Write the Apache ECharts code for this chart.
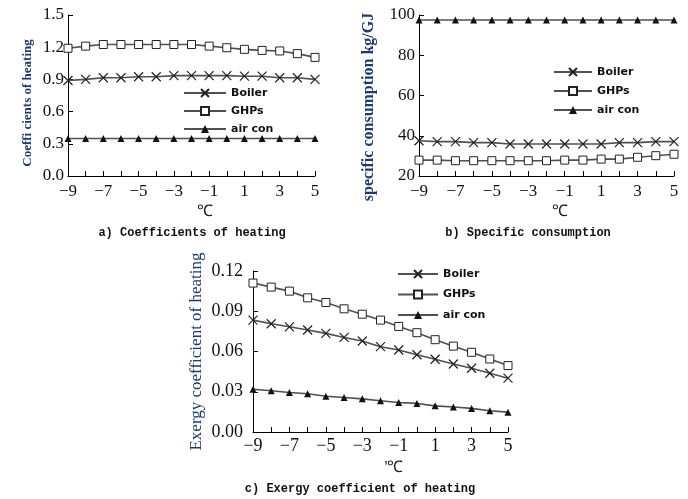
<!DOCTYPE html>
<html>
<head>
<meta charset="utf-8">
<script src="https://cdn.jsdelivr.net/npm/echarts@6/dist/echarts.min.js"></script>
<style>html,body{margin:0;padding:0;background:#fff;}#c{width:688px;height:499px;}</style>
</head>
<body>
<div id="c"></div>
<script>
const temps = ['-9','-8','-7','-6','-5','-4','-3','-2','-1','0','1','2','3','4','5'];
const seriesNames = ['Boiler','GHPs','air con'];

const coefBoiler = [0.89,0.90,0.915,0.915,0.925,0.925,0.935,0.935,0.935,0.935,0.93,0.93,0.915,0.915,0.90];
const coefGHPs   = [1.19,1.21,1.225,1.225,1.225,1.225,1.225,1.225,1.21,1.195,1.18,1.17,1.165,1.14,1.105];
const coefAir    = [0.35,0.35,0.35,0.35,0.35,0.35,0.35,0.35,0.35,0.35,0.35,0.35,0.35,0.35,0.35];

const consBoiler = [37.5,37.1,37.1,36.6,36.6,35.9,35.9,35.9,35.9,35.9,35.9,36.6,36.6,37.1,37.1];
const consGHPs   = [27.9,27.9,27.6,27.6,27.6,27.6,27.6,27.6,27.9,27.9,28.4,28.4,29.3,30.1,30.8];
const consAir    = [97.5,97.5,97.5,97.5,97.5,97.5,97.5,97.5,97.5,97.5,97.5,97.5,97.5,97.5,97.5];

const exBoiler = [0.0834,0.0807,0.0784,0.076,0.0735,0.0705,0.0678,0.0636,0.0611,0.0576,0.0542,0.0507,0.0475,0.0438,0.0401];
const exGHPs   = [0.111,0.108,0.105,0.100,0.0965,0.0918,0.0878,0.0834,0.0787,0.074,0.0688,0.064,0.0594,0.0544,0.0495];
const exAir    = [0.0319,0.0307,0.0294,0.0285,0.0267,0.0257,0.0247,0.0233,0.022,0.0213,0.0195,0.0186,0.0176,0.0158,0.0148];

const yTicksA = {min:0, max:1.5, interval:0.3, digits:1};
const yTicksB = {min:20, max:100, interval:20, digits:0};
const yTicksC = {min:0, max:0.12, interval:0.03, digits:2};

const captions = ['a) Coefficients of heating','b) Specific consumption','c) Exergy coefficient of heating'];
const yNames = ['Coeffi cients of heating','specific consumption kg/GJ','Exergy coefficient of heating'];
const xNames = ['℃','℃',"'℃"];

const SERIF = '"Liberation Serif","Times New Roman",serif';
const NAVY = '#1f3a6e';
const LINE = '#505050';
const INK = '#111';

function xAxis(i, fs, name, margin) {
  return {
    type:'category', gridIndex:i, data:temps, boundaryGap:false,
    name:name, nameLocation:'middle', nameGap:28,
    nameTextStyle:{fontFamily:SERIF, fontSize:16, color:'#222', padding:[0,0,0,27]},
    axisLine:{lineStyle:{color:'#000', width:1}},
    axisTick:{inside:true, length:5, interval:0, lineStyle:{color:'#000'}},
    axisLabel:{interval:1, margin:margin, fontFamily:SERIF, fontSize:fs, color:INK,
      formatter:v=>String(v).replace('-','\u2212')},
    splitLine:{show:false}
  };
}
function yAxis(i, t, fs, name, nfs, bold, gap, pad, margin) {
  return {
    type:'value', gridIndex:i, min:t.min, max:t.max, interval:t.interval,
    name:name, nameLocation:'middle', nameGap:gap,
    nameTextStyle:{fontFamily:SERIF, fontSize:nfs, fontWeight:bold?'bold':'normal', color:NAVY, padding:pad},
    axisLine:{show:true, lineStyle:{color:'#000', width:1}},
    axisTick:{show:true, inside:true, length:5, lineStyle:{color:'#000'}},
    axisLabel:{margin:margin, fontFamily:SERIF, fontSize:fs, color:INK,
      formatter:v=>Number(v).toFixed(t.digits)},
    splitLine:{show:false}
  };
}
const crossPath = 'path://M0,0L10,10M10,0L0,10';
const styles = [
  {symbol:crossPath, symbolSize:9, itemStyle:{color:'#fff', borderColor:'#222', borderWidth:1.2}},
  {symbol:'rect', symbolSize:8, itemStyle:{color:'#fff', borderColor:'#222', borderWidth:1}},
  {symbol:'triangle', symbolSize:7, itemStyle:{color:'#111', borderColor:'#111', borderWidth:0}}
];
function mk(name, k, gi, data) {
  const s = styles[k];
  return {
    type:'line', name:name, xAxisIndex:gi, yAxisIndex:gi, data:data,
    symbol:s.symbol, symbolSize:s.symbolSize, showAllSymbol:true,
    itemStyle:s.itemStyle, lineStyle:{color:LINE, width:1.6},
    animation:false, z:3
  };
}
function legend(left, top, w, gap) {
  return {
    data:seriesNames, orient:'vertical', left:left, top:top, padding:0,
    itemWidth:w, itemHeight:10, itemGap:gap,
    selectedMode:false,
    textStyle:{fontFamily:'"DejaVu Sans",sans-serif', fontWeight:'bold', fontSize:11, color:'#111', lineHeight:14}
  };
}

const chart = echarts.init(document.getElementById('c'), null, {renderer:'canvas'});
chart.setOption({
  backgroundColor:'#fff',
  animation:false,
  grid:[
    {left:68, top:15, width:247, height:161},
    {left:419, top:15, width:255, height:161},
    {left:253, top:271, width:255, height:161}
  ],
  xAxis:[ xAxis(0,17,xNames[0],7), xAxis(1,17,xNames[1],7), xAxis(2,18,xNames[2],5) ],
  yAxis:[
    yAxis(0, yTicksA, 17, yNames[0], 13, true, 34, [0,15,0,0], 4),
    yAxis(1, yTicksB, 17, yNames[1], 16, true, 42, [0,23,0,0], 4),
    yAxis(2, yTicksC, 18, yNames[2], 17, false, 48, [0,0,0,0], 10)
  ],
  legend:[ legend(183, 86, 42, 4), legend(553, 65, 38, 5), legend(397, 267, 40, 6.5) ],
  series:[
    mk('Boiler',0,0,coefBoiler), mk('GHPs',1,0,coefGHPs), mk('air con',2,0,coefAir),
    mk('Boiler',0,1,consBoiler), mk('GHPs',1,1,consGHPs), mk('air con',2,1,consAir),
    mk('Boiler',0,2,exBoiler), mk('GHPs',1,2,exGHPs), mk('air con',2,2,exAir)
  ],
  graphic:[
    {type:'text', x:192, y:233, style:{text:captions[0], textAlign:'center', textVerticalAlign:'middle', font:'bold 12px "Liberation Mono",monospace', fill:'#111'}},
    {type:'text', x:528, y:233, style:{text:captions[1], textAlign:'center', textVerticalAlign:'middle', font:'bold 12px "Liberation Mono",monospace', fill:'#111'}},
    {type:'text', x:360, y:489, style:{text:captions[2], textAlign:'center', textVerticalAlign:'middle', font:'bold 12px "Liberation Mono",monospace', fill:'#111'}}
  ]
});
</script>
</body>
</html>
